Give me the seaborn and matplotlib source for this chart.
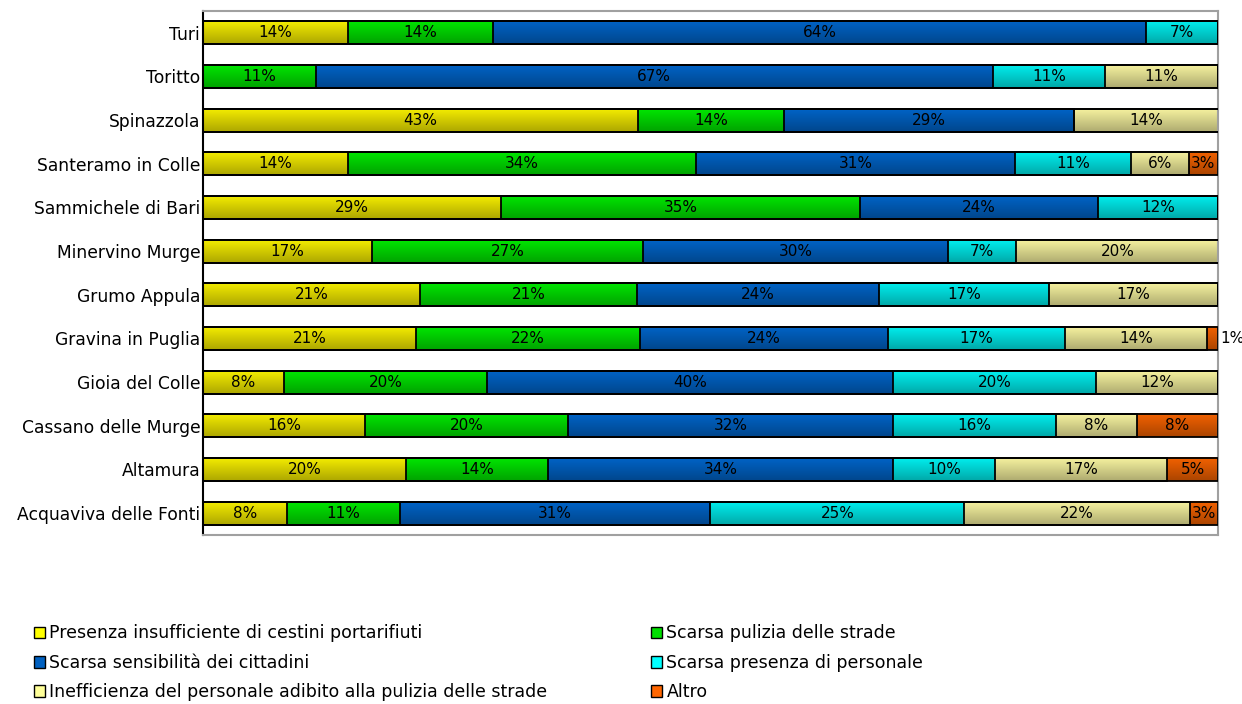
"""Stacked 100% horizontal bar chart: reasons for poor street cleanliness by town."""

import numpy as np
import pandas as pd
import matplotlib
matplotlib.use('Agg')
import matplotlib.pyplot as plt
from matplotlib.colors import LinearSegmentedColormap, to_rgb
from matplotlib.patches import Patch
import seaborn as sns

# towns, top to bottom
towns = ['Turi', 'Toritto', 'Spinazzola', 'Santeramo in Colle', 'Sammichele di Bari',
         'Minervino Murge', 'Grumo Appula', 'Gravina in Puglia', 'Gioia del Colle',
         'Cassano delle Murge', 'Altamura', 'Acquaviva delle Fonti']

categories = ['Presenza insufficiente di cestini portarifiuti',
              'Scarsa pulizia delle strade',
              'Scarsa sensibilità dei cittadini',
              'Scarsa presenza di personale',
              'Inefficienza del personale adibito alla pulizia delle strade',
              'Altro']

# percent shares per town
presenza = [14.3, 0.0, 42.9, 14.3, 29.4, 16.7, 21.4, 21.0, 8.0, 16.0, 20.0, 8.3]
pulizia = [14.3, 11.1, 14.3, 34.3, 35.3, 26.7, 21.4, 22.1, 20.0, 20.0, 14.0, 11.1]
sensibilita = [64.3, 66.7, 28.6, 31.4, 23.5, 30.0, 23.8, 24.4, 40.0, 32.0, 34.0, 30.6]
personale = [7.1, 11.1, 0.0, 11.4, 11.8, 6.7, 16.7, 17.4, 20.0, 16.0, 10.0, 25.0]
inefficienza = [0.0, 11.1, 14.3, 5.7, 0.0, 20.0, 16.7, 14.0, 12.0, 8.0, 17.0, 22.2]
altro = [0.0, 0.0, 0.0, 2.9, 0.0, 0.0, 0.0, 1.1, 0.0, 8.0, 5.0, 2.8]

colors = ['#F6EE00', '#00E800', '#0064C8', '#00F0F0', '#F8F4A0', '#F46200']
legend_colors = ['#FFFF00', '#00E000', '#0060C0', '#00FFFF', '#FFFF99', '#FF6600']

BAR_H = 0.53


def gradient_cmap(c):
    top = np.array(to_rgb(c))
    bottom = top * 0.7
    return LinearSegmentedColormap.from_list('g', [top, bottom])


def main():
    sns.set_style('white')
    plt.rcParams['font.family'] = ['DejaVu Sans']
    plt.rcParams['text.color'] = 'black'
    plt.rcParams['ytick.color'] = 'black'

    df = pd.DataFrame(dict(zip(categories, [presenza, pulizia, sensibilita,
                                            personale, inefficienza, altro])),
                      index=towns)
    cum = df.cumsum(axis=1)

    fig = plt.figure(figsize=(12.42, 7.04), dpi=100)
    ax = fig.add_axes([0.1634, 0.2401, 0.8173, 0.7443])

    # stacked bars: draw cumulative totals from largest to smallest
    for k in range(len(categories) - 1, -1, -1):
        sns.barplot(x=cum.iloc[:, k].values, y=towns, orient='h', color=colors[k],
                    saturation=1, width=BAR_H, edgecolor='black', linewidth=1.3,
                    ax=ax)

    # vertical gradient fill for each visible segment
    grad = np.linspace(0, 1, 64).reshape(-1, 1)
    for k, cat in enumerate(categories):
        cmap = gradient_cmap(colors[k])
        for i, town in enumerate(towns):
            v = df.loc[town, cat]
            if v <= 0:
                continue
            left = cum.iloc[i, k] - v
            ax.imshow(grad, cmap=cmap, aspect='auto', origin='upper', zorder=2,
                      extent=(left, left + v, i + BAR_H / 2, i - BAR_H / 2))
            if v < 2:
                ax.text(100.2, i, f'{v:.0f}%', ha='left', va='center',
                        fontsize=11, clip_on=False)
            else:
                ax.text(left + v / 2, i, f'{v:.0f}%', ha='center', va='center',
                        fontsize=11, zorder=4)

    for p in ax.patches:
        p.set_facecolor('none')
        p.set_zorder(3)

    ax.set_xlim(0, 100)
    ax.set_ylim(len(towns) - 0.5, -0.5)
    ax.set_xticks([])
    ax.set_xlabel('')
    ax.set_ylabel('')
    ax.tick_params(axis='y', length=0, labelsize=12.3, pad=2)
    for side in ['top', 'right', 'bottom']:
        ax.spines[side].set_color('#a0a0a0')
        ax.spines[side].set_linewidth(1.5)
    ax.spines['left'].set_color('black')
    ax.spines['left'].set_linewidth(1.5)

    handles = [Patch(facecolor=legend_colors[k], edgecolor='black', linewidth=1.0,
                     label=categories[k]) for k in range(len(categories))]
    leg_kw = dict(frameon=False, fontsize=12.5, handlelength=0.65, handleheight=0.65,
                  handletextpad=0.25, labelspacing=0.66, borderpad=0, borderaxespad=0,
                  loc='upper left')
    fig.legend(handles=[handles[0], handles[2], handles[4]],
               bbox_to_anchor=(0.027, 0.113), **leg_kw)
    fig.legend(handles=[handles[1], handles[3], handles[5]],
               bbox_to_anchor=(0.524, 0.113), **leg_kw)

    fig.savefig('out.png', dpi=100)
    plt.close(fig)


if __name__ == '__main__':
    main()
